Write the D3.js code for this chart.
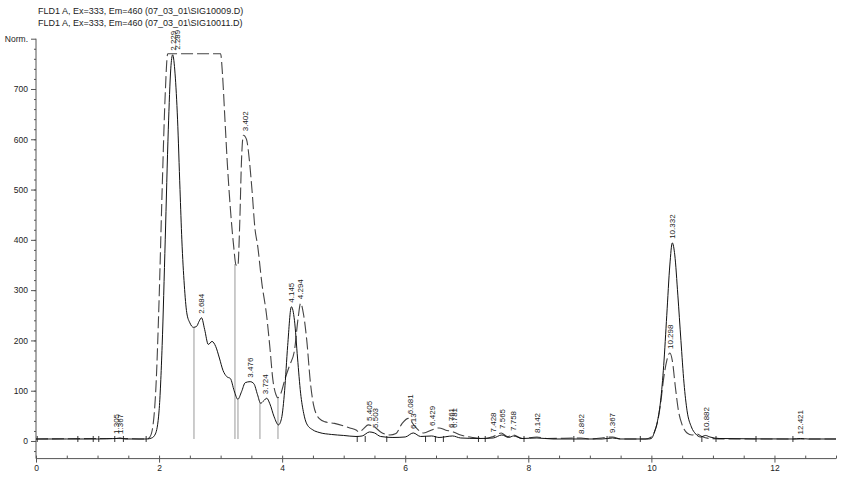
<!DOCTYPE html>
<html><head><meta charset="utf-8">
<script src="https://cdn.jsdelivr.net/npm/d3@7/dist/d3.min.js"></script>
<style>body{margin:0;background:#fff}svg{display:block}text{font-family:"Liberation Sans",Arial,sans-serif}</style>
</head><body><svg id="c" width="841" height="484"></svg>
<script>
const titles = ["FLD1 A, Ex=333, Em=460 (07_03_01\\SIG10009.D)", "FLD1 A, Ex=333, Em=460 (07_03_01\\SIG10011.D)"];
const yLabel = "Norm.";
const xTickValues = [0, 2, 4, 6, 8, 10, 12];
const yTickValues = [0, 100, 200, 300, 400, 500, 600, 700];

// SIG10009 (solid)
const solid = [[0,4],[0.5,4],[1.0,4],[1.3,5],[1.37,6],[1.45,4],[1.8,4],[1.88,6],[1.94,14],[2.0,60],[2.05,190],[2.1,400],[2.15,620],[2.19,740],[2.22,768],[2.26,730],[2.3,640],[2.34,500],[2.37,400],[2.41,310],[2.45,255],[2.5,235],[2.56,226],[2.61,228],[2.65,238],[2.69,245],[2.74,222],[2.8,192],[2.86,198],[2.92,188],[2.98,165],[3.04,140],[3.1,128],[3.16,124],[3.22,100],[3.28,83],[3.34,98],[3.4,116],[3.48,118],[3.54,114],[3.6,92],[3.65,75],[3.7,80],[3.75,85],[3.8,74],[3.87,48],[3.94,32],[3.99,45],[4.04,100],[4.09,190],[4.15,267],[4.2,240],[4.25,165],[4.3,95],[4.35,55],[4.4,34],[4.5,22],[4.6,17],[4.8,13],[5.0,11],[5.2,9],[5.3,10],[5.42,18],[5.5,16],[5.6,9],[5.8,7],[6.0,8],[6.13,16],[6.25,9],[6.43,10],[6.55,7],[6.77,10],[6.9,6],[7.2,5],[7.43,6],[7.57,12],[7.68,7],[7.76,10],[7.9,5],[8.14,6],[8.4,4],[9.2,4],[9.37,6],[9.5,4],[9.95,4],[10.0,5],[10.05,18],[10.1,40],[10.15,80],[10.2,150],[10.25,250],[10.3,350],[10.34,394],[10.38,370],[10.43,290],[10.48,200],[10.53,115],[10.58,60],[10.65,28],[10.72,14],[10.8,8],[10.88,11],[10.95,8],[11.1,5],[12.3,4],[12.42,5],[12.55,4],[13,4]];

// SIG10011 (dashed)
const dashed = [[0,4],[1.3,5],[1.8,4],[1.85,8],[1.9,30],[1.95,110],[2.0,280],[2.05,500],[2.1,690],[2.14,770],[2.5,770],[3.0,770],[3.03,730],[3.07,640],[3.11,550],[3.16,460],[3.21,390],[3.25,350],[3.28,348],[3.31,430],[3.34,560],[3.37,608],[3.42,600],[3.47,555],[3.51,499],[3.56,420],[3.6,390],[3.67,314],[3.75,247],[3.8,187],[3.85,121],[3.9,92],[3.93,86],[3.98,95],[4.05,125],[4.12,150],[4.2,180],[4.26,245],[4.3,274],[4.35,250],[4.4,200],[4.46,115],[4.51,72],[4.6,45],[4.7,38],[4.85,35],[5.0,30],[5.1,26],[5.2,22],[5.25,18],[5.32,24],[5.4,32],[5.5,28],[5.6,18],[5.75,12],[5.85,15],[5.95,35],[6.05,45],[6.15,30],[6.3,16],[6.43,22],[6.55,26],[6.65,22],[6.78,18],[6.9,12],[7.1,7],[7.3,5],[7.43,9],[7.56,16],[7.66,9],[7.76,12],[7.9,5],[8.14,8],[8.3,5],[8.86,6],[9.0,4],[9.37,8],[9.5,4],[9.9,4],[10.0,8],[10.05,18],[10.1,38],[10.15,75],[10.2,125],[10.25,160],[10.3,175],[10.34,160],[10.39,107],[10.44,60],[10.5,32],[10.58,16],[10.66,12],[10.74,14],[10.82,9],[10.95,5],[11.2,4],[13,4]];

// peak labels: [text, retention time, peak height]
const peakLabels = [["1.305",1.305,6],["1.367",1.367,6],["2.229",2.229,768],["2.289",2.289,770],["2.684",2.684,245],["3.402",3.402,608],["3.476",3.476,118],["3.724",3.724,85],["4.145",4.145,267],["4.294",4.294,274],["5.405",5.405,32],["5.503",5.503,18],["6.13",6.13,16],["6.081",6.081,45],["6.429",6.429,22],["6.761",6.74,18],["6.781",6.79,18],["7.428",7.428,9],["7.565",7.565,16],["7.758",7.758,12],["8.142",8.142,8],["8.862",8.862,6],["9.367",9.367,8],["10.298",10.298,175],["10.332",10.332,394],["10.882",10.882,11],["12.421",12.421,5]];

// integration drop lines: [time, height]
const dropLines = [[2.567,225],[3.233,352],[3.282,83],[3.639,76],[3.932,86]];
// integration event markers on baseline
const markerTimes = [0.02,0.68,0.93,1.02,1.28,1.42,1.79,5.22,5.35,5.7,6.33,6.49,6.62,7.19,7.3,7.93,8.74,9.28,9.82,10.82,11.05,11.7,12.3];
const baselineValue = 4;

const svg = d3.select("#c");
const x = d3.scaleLinear().domain([0, 13]).range([36, 836]);
const y = d3.scaleLinear().domain([-35, 800]).range([458.6, 38.7]);

// titles
svg.selectAll("text.title").data(titles).join("text").attr("class","title")
  .attr("x", 38).attr("y", (d,i)=>14 + i*11.5).attr("font-size", 9).attr("fill","#222").text(d=>d);

// axes
const axisColor = "#555";
const gy = svg.append("g").attr("transform","translate(36,0)");
gy.call(d3.axisLeft(y).tickValues(d3.range(-20, 800, 20)).tickSize(2).tickFormat(""));
gy.call(g=>g.select(".domain").remove());
const gyMaj = svg.append("g").attr("transform","translate(36,0)")
  .call(d3.axisLeft(y).tickValues(yTickValues.concat([800])).tickSize(5).tickPadding(3).tickFormat(d=> d===800 ? yLabel : d));
gyMaj.select(".domain").remove();
svg.append("line").attr("x1",36).attr("x2",36).attr("y1",y(800)).attr("y2",y(-35)).attr("stroke",axisColor);

const gx = svg.append("g").attr("transform",`translate(0,${y(-35)})`)
  .call(d3.axisBottom(x).tickValues(d3.range(0, 13.01, 0.5)).tickSize(-3).tickFormat(""));
gx.select(".domain").remove();
const gxMaj = svg.append("g").attr("transform",`translate(0,${y(-35)})`)
  .call(d3.axisBottom(x).tickValues(xTickValues).tickSize(4).tickPadding(2));
gxMaj.select(".domain").remove();
svg.append("line").attr("x1",36).attr("x2",836).attr("y1",y(-35)).attr("y2",y(-35)).attr("stroke",axisColor);
svg.selectAll(".tick line").attr("stroke", axisColor);
svg.selectAll(".tick text").attr("font-size", 8.5).attr("fill","#222").attr("font-family","Liberation Sans, Arial, sans-serif");

// baseline markers
svg.append("g").selectAll("line").data(markerTimes).join("line")
  .attr("x1",d=>x(d)).attr("x2",d=>x(d)).attr("y1",y(baselineValue)-3).attr("y2",y(baselineValue)+3)
  .attr("stroke","#333").attr("stroke-width",1);

// drop lines
svg.append("g").selectAll("line").data(dropLines).join("line")
  .attr("x1",d=>x(d[0])).attr("x2",d=>x(d[0])).attr("y1",d=>y(d[1])).attr("y2",y(baselineValue))
  .attr("stroke","#999").attr("stroke-width",1);

const line = d3.line().x(d=>x(d[0])).y(d=>y(d[1])).curve(d3.curveMonotoneX);
svg.append("path").datum(dashed).attr("d",line).attr("fill","none").attr("stroke","#444")
  .attr("stroke-width",1.1).attr("stroke-dasharray","12,4");
svg.append("path").datum(solid).attr("d",line).attr("fill","none").attr("stroke","#111").attr("stroke-width",1);

// peak labels
svg.append("g").selectAll("text").data(peakLabels).join("text")
  .attr("transform",d=>`translate(${x(d[1])+3},${y(d[2])-4}) rotate(-90)`)
  .attr("font-size",8).attr("fill","#222").text(d=>d[0]);
</script></body></html>
